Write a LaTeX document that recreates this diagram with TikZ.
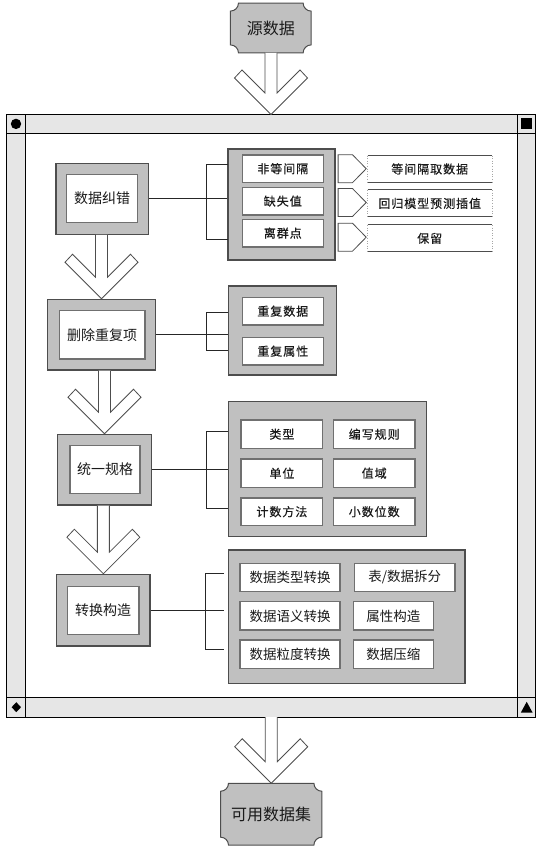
\documentclass[tikz,border=0pt]{standalone}
\usepackage{fontspec}
\newfontfamily\cjk{Noto Sans CJK SC}
\newfontfamily\cjksp{Noto Sans CJK SC}[LetterSpace=8,FakeBold=0.4]
\usetikzlibrary{calc}
\pgfdeclarelayer{background}
\pgfsetlayers{background,main}
\definecolor{boxgray}{HTML}{C0C0C0}
\definecolor{framegray}{HTML}{E6E6E6}
\definecolor{edgedark}{HTML}{4D4D4D}
\definecolor{edgemid}{HTML}{707070}
\definecolor{txt}{HTML}{1A1A1A}
\newcommand\fPlaque{\cjk\fontsize{16}{18}\selectfont}
\newcommand\fStep{\cjk\fontsize{14}{16}\selectfont}
\newcommand\fItem{\cjksp\fontsize{12}{14}\selectfont}
\newcommand\fItemB{\cjk\fontsize{13.5}{15}\selectfont}
\newcommand\fatarrow[2]{%
  \draw[fatarr] let \p1=(#1), \p2=(#2) in
    ({\x2-6pt},\y1) -- ({\x2-6pt},{\y2+21.5pt}) -- ({\x2-29pt},{\y2+44.5pt})
    -- ({\x2-36.5pt},{\y2+36.5pt}) -- (\x2,\y2) -- ({\x2+36.5pt},{\y2+36.5pt})
    -- ({\x2+29pt},{\y2+44.5pt}) -- ({\x2+6pt},{\y2+21.5pt}) -- ({\x2+6pt},\y1);}
\newcommand\plaquepath[1]{%
  \begin{pgfonlayer}{background}
  \draw[plaq] let \p1=(#1.north west), \p2=(#1.south east) in
    ({\x1+8pt},\y1) -- ({\x2-8pt},\y1) arc[start angle=180,end angle=270,radius=8pt]
    -- (\x2,{\y2+8pt}) arc[start angle=90,end angle=180,radius=8pt]
    -- ({\x1+8pt},\y2) arc[start angle=0,end angle=90,radius=8pt]
    -- (\x1,{\y1-8pt}) arc[start angle=270,end angle=360,radius=8pt] -- cycle;
  \end{pgfonlayer}}
\newcommand\tagpath[1]{%
  \draw[tagline] let \p1=(#1.north west), \p2=(#1.south east) in
    (\x1,\y1) -- ({\x1+14.4pt},\y1) -- (#1.east) -- ({\x1+14.4pt},\y2) -- (\x1,\y2) -- cycle;}
\newcommand\resbox[1]{%
  \draw[resdot] (#1.north west) -- (#1.south west) (#1.north east) -- (#1.south east);
  \draw[resline] (#1.north west) -- (#1.north east) (#1.south west) -- (#1.south east);}
\tikzset{
  fatarr/.style={draw=edgedark, fill=white, line width=0.8pt, line join=miter},
  plaq/.style={draw=edgedark, fill=boxgray, line width=1pt},
  plaqnode/.style={inner sep=0pt, text=txt, font=\fPlaque},
  stepouter/.style={draw=edgedark, fill=boxgray, line width=1.1pt, inner sep=0pt},
  stepinner/.style={draw=edgemid, fill=white, line width=1.3pt, inner sep=0pt, text=txt, font=\fStep},
  grp/.style={draw=edgedark, fill=boxgray, line width=1.1pt, inner sep=0pt},
  item/.style={draw=edgemid, fill=white, line width=1.3pt, inner sep=0pt, text=txt, font=\fItem, minimum width=81pt, minimum height=27.5pt},
  itemb/.style={draw=edgemid, fill=white, line width=1.3pt, inner sep=0pt, text=txt, font=\fItemB, minimum height=28.3pt},
  tagnode/.style={inner sep=0pt, minimum width=27.7pt, minimum height=27.5pt},
  tagline/.style={draw=edgedark, fill=white, line width=0.8pt},
  resnode/.style={inner sep=0pt, text=txt, font=\fItem, minimum width=124pt, minimum height=26.6pt},
  resline/.style={draw=edgedark, line width=1.1pt},
  resdot/.style={draw=gray!70, line width=0.6pt, dotted},
  conn/.style={draw=black!85, line width=0.8pt},
  frameline/.style={draw=black, line width=0.9pt},
}
\begin{document}
\begin{tikzpicture}[x=1pt,y=1pt]
\useasboundingbox (0,0) rectangle (541,-846);
% frame
\fill[framegray] (6,-114.5) rectangle (535.7,-717);
\fill[white] (25.7,-133.3) rectangle (517.7,-697);
\draw[frameline] (6,-114.5) rectangle (535.7,-717);
\draw[frameline] (6,-133.3) -- (535.7,-133.3) (6,-697) -- (535.7,-697)
  (25.7,-114.5) -- (25.7,-717) (517.7,-114.5) -- (517.7,-717);
\fill[black] (16,-123.9) circle[radius=5.2];
\fill[black] (521.1,-118.4) rectangle (532.3,-129.4);
\fill[black] (16.3,-702.2) -- (21,-707.2) -- (16.3,-712.2) -- (11.6,-707.2) -- cycle;
\fill[black] (526.7,-701.8) -- (532.6,-712.6) -- (520.8,-712.6) -- cycle;
\coordinate (ftop) at (271,-114.5);
\coordinate (fbot) at (271,-717);

% source and destination
\node[plaqnode, minimum width=80.3pt, minimum height=49.4pt] (src) at (270.8,-28) {源数据};
\plaquepath{src}
\node[plaqnode, minimum width=101pt, minimum height=61.5pt] (dst) at (271.2,-814.2) {可用数据集};
\plaquepath{dst}
\fatarrow{src.south}{ftop}
\fatarrow{fbot}{dst.north}

% steps
\node[stepouter, minimum width=92.3pt, minimum height=71pt] (s1o) at (102.15,-198.8) {};
\node[stepinner, minimum width=71pt, minimum height=48.4pt] (s1) at (102.2,-198.5) {数据纠错};
\node[stepouter, minimum width=108.4pt, minimum height=70.7pt] (s2o) at (101.5,-334.65) {};
\node[stepinner, minimum width=85.7pt, minimum height=48.3pt] (s2) at (102.15,-334.85) {删除重复项};
\node[stepouter, minimum width=94.4pt, minimum height=70.7pt] (s3o) at (104.5,-469.65) {};
\node[stepinner, minimum width=70pt, minimum height=47.6pt] (s3) at (105,-469.5) {统一规格};
\node[stepouter, minimum width=93.3pt, minimum height=71.7pt] (s4o) at (103.35,-610.15) {};
\node[stepinner, minimum width=71.7pt, minimum height=47.6pt] (s4) at (103.15,-610.5) {转换构造};
\fatarrow{s1o.south}{s2o.north}
\fatarrow{s2o.south}{s3o.north}
\fatarrow{s3o.south}{s4o.north}

% groups
\node[grp, minimum width=107pt, minimum height=111pt] (g1) at (281.5,-204.5) {};
\node[grp, minimum width=108.4pt, minimum height=89pt] (g2) at (282.5,-330.5) {};
\node[grp, minimum width=198.4pt, minimum height=135pt] (g3) at (327.5,-469.2) {};
\node[grp, minimum width=236.7pt, minimum height=133.3pt] (g4) at (346.65,-616.65) {};

% brackets
\draw[conn] (s1o.east) -- (s1o.east -| g1.west);
\coordinate (b1a) at (228,-164); \coordinate (b1b) at (228,-239.3);
\draw[conn] (b1a) -- ++(-21.5,0) |- (b1b);
\draw[conn] (s2o.east) -- (s2o.east -| g2.west);
\coordinate (b2a) at (228,-312.7); \coordinate (b2b) at (228,-350);
\draw[conn] (b2a) -- ++(-21.5,0) |- (b2b);
\draw[conn] (s3o.east) -- (s3o.east -| g3.west);
\coordinate (b3a) at (228,-431.7); \coordinate (b3b) at (228,-508.3);
\draw[conn] (b3a) -- ++(-21.5,0) |- (b3b);
\coordinate (b4m) at (223.5,-610.15);
\draw[conn] (s4o.east) -- (b4m);
\coordinate (b4a) at (223.5,-573.3); \coordinate (b4b) at (223.5,-649.3);
\draw[conn] (b4a) -- ++(-18.5,0) |- (b4b);

% group 1
\node[item] (i11) at (282.8,-168.7) {非等间隔};
\node[item] (i12) at (282.8,-201.1) {缺失值};
\node[item] (i13) at (282.8,-233.1) {离群点};
\node[tagnode] (t1) at (352.15,-168.7) {};
\node[tagnode] (t2) at (352.15,-202.5) {};
\node[tagnode] (t3) at (352.15,-237.2) {};
\tagpath{t1}\tagpath{t2}\tagpath{t3}
\node[resnode] (r1) at (429.7,-169) {等间隔取数据};
\node[resnode] (r2) at (429.7,-203.4) {回归模型预测插值};
\node[resnode] (r3) at (429.7,-238.4) {保留};
\resbox{r1}\resbox{r2}\resbox{r3}

% group 2
\node[item] (i21) at (282.8,-311.2) {重复数据};
\node[item] (i22) at (282.8,-351.2) {重复属性};

% group 3
\node[item, minimum width=81.7pt, minimum height=28.3pt] (i31) at (281.9,-434.2) {类型};
\node[item, minimum width=81.7pt, minimum height=28.3pt] (i32) at (374.2,-434.2) {编写规则};
\node[item, minimum width=81.7pt, minimum height=28.3pt] (i33) at (281.9,-473.2) {单位};
\node[item, minimum width=81.7pt, minimum height=28.3pt] (i34) at (374.2,-473.2) {值域};
\node[item, minimum width=81.7pt, minimum height=27.5pt] (i35) at (281.9,-511.7) {计数方法};
\node[item, minimum width=81.7pt, minimum height=27.5pt] (i36) at (374.2,-511.7) {小数位数};

% group 4
\node[itemb, minimum width=100pt] (i41) at (290,-577.5) {数据类型转换};
\node[itemb, minimum width=100.7pt] (i42) at (404.65,-577.5) {表/数据拆分};
\node[itemb, minimum width=100pt] (i43) at (290,-615.9) {数据语义转换};
\node[itemb, minimum width=80pt] (i44) at (393.3,-615.9) {属性构造};
\node[itemb, minimum width=100pt] (i45) at (290,-654.2) {数据粒度转换};
\node[itemb, minimum width=80pt] (i46) at (393.3,-654.2) {数据压缩};
\end{tikzpicture}
\end{document}
